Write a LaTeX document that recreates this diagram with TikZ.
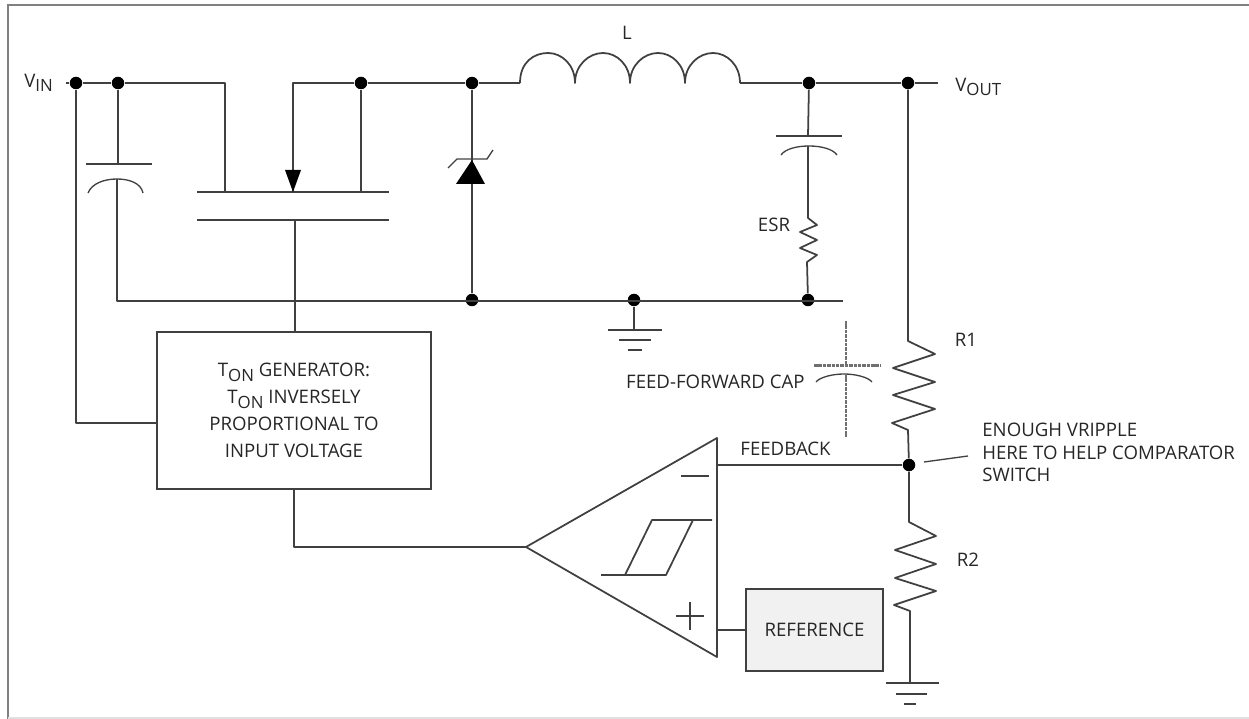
\documentclass[tikz,border=0pt]{standalone}
\usepackage{fontspec}
\setmainfont{Open Sans}
\definecolor{wirecol}{HTML}{404040}
\definecolor{framecol}{HTML}{808080}
\definecolor{dashcol}{HTML}{707070}
\definecolor{reffill}{HTML}{F1F1F1}
\newcommand{\subtxt}[1]{\raisebox{-0.45ex}{\fontsize{9.6pt}{9.6pt}\selectfont #1}}
\tikzset{
	wire/.style={draw=wirecol,line width=1pt,line join=round},
	thinwire/.style={draw=wirecol,line width=0.75pt},
	junc/.style={circle,fill=black,inner sep=0pt,minimum size=0.25cm},
	lbl/.style={inner sep=0pt,text=black!85,font=\fontsize{10.6pt}{12.8pt}\selectfont},
	blockbox/.style={draw=wirecol,line width=1pt,inner sep=0pt,align=center,text=black!85,font=\fontsize{10.6pt}{15.4pt}\selectfont},
	ffcap/.style={draw=dashcol,line width=1.2pt,dash pattern=on 2pt off 0.5pt}
}
\begin{document}
\begin{tikzpicture}[x=0.02cm,y=-0.02cm,line cap=butt,>=stealth]
	\useasboundingbox (0,0) rectangle (1249,719);
	\draw[framecol,line width=1.7pt] (8,719)--(8,5)--(1249,5);
	\draw[black!12,line width=0.6pt] (8,718)--(1249,718);
	% junctions
	\node[junc] (a) at (76,83) {};
	\node[junc] (b) at (118,83) {};
	\node[junc] (c) at (361,83) {};
	\node[junc] (d) at (472,83) {};
	\node[junc] (e) at (809,83) {};
	\node[junc] (f) at (908,83) {};
	\node[junc] (g) at (472,300) {};
	\node[junc] (h) at (634,300) {};
	\node[junc] (i) at (808,300) {};
	\node[junc] (fb) at (909,465) {};
	% blocks
	\node[blockbox,minimum width=5.48cm,minimum height=3.14cm] (ton) at (294,410.5) {T\subtxt{ON} GENERATOR:\\T\subtxt{ON} INVERSELY\\PROPORTIONAL TO\\INPUT VOLTAGE};
	\node[blockbox,fill=reffill,minimum width=2.74cm,minimum height=1.64cm] (ref) at (814.5,630) {REFERENCE};
	% labels
	\node[lbl,anchor=west] (vin) at (24,83) {V\subtxt{IN}};
	\node[lbl,anchor=west] (vout) at (955,87) {V\subtxt{OUT}};
	\node[lbl] (ll) at (627,33) {L};
	\node[lbl] (esr) at (774,225) {ESR};
	\node[lbl] (ra) at (966,340) {R1};
	\node[lbl] (rb) at (968,560) {R2};
	\node[lbl,anchor=east] (ffl) at (805,382) {FEED-FORWARD CAP};
	\node[lbl] (fbl) at (785.5,449) {FEEDBACK};
	\node[lbl,anchor=north west,align=left] (note) at (982,423) {ENOUGH VRIPPLE\\HERE TO HELP COMPARATOR\\SWITCH};
	% free ends
	\coordinate (vinend) at (66,83);
	\coordinate (voutend) at (938,83);
	\coordinate (srcl) at (225,192);
	\coordinate (drnl) at (293,192);
	\coordinate (drnr) at (361,192);
	\coordinate (gate) at (295,220);
	\coordinate (lin) at (520,83);
	\coordinate (lout) at (740,83);
	\coordinate (cmpin) at (526,547);
	\coordinate (cmptop) at (717,438);
	\coordinate (cmpbot) at (717,657);
	% top rail
	\draw[wire] (vinend)--(a)--(b)--(225,83)--(srcl);
	\draw[wire] (drnr)--(c)--(293,83)--(drnl);
	\draw[wire] (c)--(d)--(lin);
	\draw[wire] (lin) ..controls (520,62) and (534,53) .. (548,53) ..controls (562,53) and (575,65) .. (575,83)
		..controls (575,65) and (589,53) .. (603,53) ..controls (617,53) and (630,65) .. (630,83)
		..controls (630,65) and (644,53) .. (658,53) ..controls (672,53) and (685,65) .. (685,83)
		..controls (685,65) and (699,53) .. (713,53) ..controls (727,53) and (740,65) .. (lout);
	\draw[wire] (lout)--(e)--(f)--(voutend);
	% switch
	\draw[wire] (197,192)--(389,192);
	\draw[wire] (197,220)--(389,220);
	\draw[wire] (gate)--(gate|-ton.north);
	\fill[black] (285,170)--(301,170)--(293,192)--cycle;
	% input cap
	\draw[wire] (b)--(118,164);
	\draw[wire] (86,164)--(152,164);
	\draw[thinwire] (88,193) ..controls (92,183) and (105,179) .. (117,179) ..controls (129,179) and (141,183) .. (143,193);
	\draw[wire] (117,179)--(117,301)--(472,301);
	\draw[wire] (g|-0,301)--(843,301);
	% diode
	\draw[wire] (d)--(g);
	\fill[black] (472,160)--(485,184)--(456,184)--cycle;
	\draw[thinwire] (448,168)--(457,159)--(487,159)--(493,150);
	% ground
	\draw[wire] (h)--(634,330);
	\draw[wire] (608,330)--(662,330);
	\draw[wire] (619,340)--(651,340);
	\draw[wire] (628,350)--(642,350);
	% output cap, esr
	\draw[wire] (e)--(808,136);
	\draw[wire] (776,136)--(842,136);
	\draw[thinwire] (781,155) ..controls (785,149) and (797,146) .. (809,146) ..controls (821,146) and (833,149) .. (837,155);
	\draw[wire] (808,146)--(808,218)--(817,225)--(800,232)--(817,240)--(800,248)--(817,255)--(807,262)--(i);
	% divider
	\draw[wire] (f)--(908,341)--(935,354)--(893,368)--(935,382)--(893,395)--(935,409)--(892,423)--(908,430)--(fb);
	\draw[wire] (fb)--(909,522)--(936,536)--(895,550)--(936,564)--(895,578)--(936,591)--(894,605)--(910,611)--(910,683);
	\draw[wire] (886,683)--(939,683);
	\draw[wire] (896,694)--(927,694);
	\draw[wire] (904,704)--(916,704);
	% feed-forward cap
	\draw[ffcap] (846,321)--(846,365);
	\draw[ffcap] (814,365.5)--(880,365.5);
	\draw[thinwire] (816,382) ..controls (820,377) and (833,374) .. (844,374) ..controls (855,374) and (868,377) .. (872,382);
	\draw[ffcap] (846,374)--(846,437);
	\draw[thinwire] (924,462)--(968,456);
	% comparator
	\draw[wire] (cmpin)--(cmptop)--(cmpbot)--cycle;
	\draw[wire] (681,476)--(709,476);
	\draw[wire] (676,616)--(704,616);
	\draw[wire] (690,602)--(690,630);
	\draw[wire] (601,575)--(666,575)--(693,520);
	\draw[wire] (625,575)--(652,520)--(712,520);
	% signal wires
	\draw[wire] (717,465)--(fb);
	\draw[wire] (717,630)--(ref.west);
	\draw[wire] (a)--(76,423)--(ton.west|-0,423);
	\draw[wire] (ton.south-|294,0)--(294,547)--(cmpin);
\end{tikzpicture}
\end{document}
